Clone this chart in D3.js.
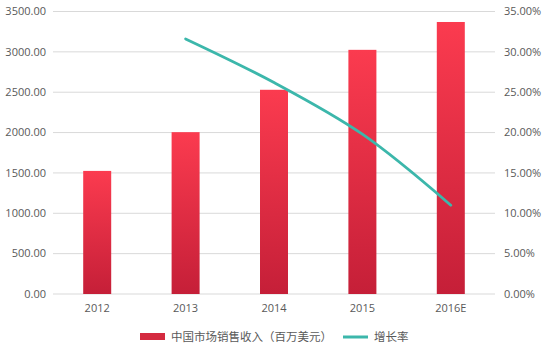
<!DOCTYPE html>
<html>
<head>
<meta charset="utf-8">
<script src="https://cdn.jsdelivr.net/npm/d3@7"></script>
<style>
  body { margin: 0; background: #fff; }
  text { font-family: "Open Sans", "Noto Sans CJK SC", sans-serif; fill: #595959; }
</style>
</head>
<body>
<svg width="548" height="355"></svg>
<script>
var years = ["2012", "2013", "2014", "2015", "2016E"];
var revenue = [1525, 2005, 2530, 3025, 3370];
var growth = [null, 0.316, 0.262, 0.198, 0.110];
var leftTicks = [0, 500, 1000, 1500, 2000, 2500, 3000, 3500];
var rightTicks = [0, 0.05, 0.10, 0.15, 0.20, 0.25, 0.30, 0.35];
var barName = "中国市场销售收入（百万美元）";
var lineName = "增长率";

var svg = d3.select("svg"),
    margin = {top: 11.5, right: 53, bottom: 61, left: 53},
    width = +svg.attr("width") - margin.left - margin.right,
    height = +svg.attr("height") - margin.top - margin.bottom,
    g = svg.append("g").attr("transform", "translate(" + margin.left + "," + margin.top + ")");

var defs = svg.append("defs");
var grad = defs.append("linearGradient")
    .attr("id", "barGrad").attr("x1", 0).attr("y1", 0).attr("x2", 0).attr("y2", 1);
grad.append("stop").attr("offset", "0%").attr("stop-color", "#fb3b4f");
grad.append("stop").attr("offset", "100%").attr("stop-color", "#c51f38");

var x = d3.scaleBand().domain(years).range([0, width]);
var y = d3.scaleLinear().domain([0, 3500]).range([height, 0]);
var y2 = d3.scaleLinear().domain([0, 0.35]).range([height, 0]);

// grid
g.selectAll(".grid")
    .data(leftTicks)
    .enter().append("line")
    .attr("x1", 0).attr("x2", width)
    .attr("y1", function(d) { return y(d); })
    .attr("y2", function(d) { return y(d); })
    .attr("stroke", "#d9d9d9").attr("stroke-width", 1);

var fmtL = d3.format(".2f");
var fmtR = d3.format(".2%");

g.selectAll(".ltick")
    .data(leftTicks)
    .enter().append("text")
    .attr("x", -7).attr("y", function(d) { return y(d); })
    .attr("dy", "0.35em").attr("text-anchor", "end")
    .attr("font-size", 11)
    .text(function(d) { return fmtL(d); });

g.selectAll(".rtick")
    .data(rightTicks)
    .enter().append("text")
    .attr("x", width + 9).attr("y", function(d) { return y2(d); })
    .attr("dy", "0.35em").attr("text-anchor", "start")
    .attr("font-size", 11)
    .text(function(d) { return fmtR(d); });

var bw = 28;
g.selectAll(".bar")
    .data(revenue)
    .enter().append("rect")
    .attr("x", function(d, i) { return x(years[i]) + x.bandwidth() / 2 - bw / 2; })
    .attr("y", function(d) { return y(d); })
    .attr("width", bw)
    .attr("height", function(d) { return height - y(d); })
    .attr("fill", "url(#barGrad)");

g.selectAll(".xlab")
    .data(years)
    .enter().append("text")
    .attr("x", function(d) { return x(d) + x.bandwidth() / 2; })
    .attr("y", height + 18)
    .attr("text-anchor", "middle")
    .attr("font-size", 11)
    .text(function(d) { return d; });

var pts = growth.map(function(v, i) { return {k: years[i], v: v}; })
    .filter(function(d) { return d.v != null; });

var line = d3.line()
    .x(function(d) { return x(d.k) + x.bandwidth() / 2; })
    .y(function(d) { return y2(d.v); })
    .curve(d3.curveCatmullRom.alpha(0.5));

g.append("path")
    .datum(pts)
    .attr("d", line)
    .attr("fill", "none")
    .attr("stroke", "#3cb7ab")
    .attr("stroke-width", 2.75)
    .attr("stroke-linecap", "round");

// legend
var lg = svg.append("g").attr("transform", "translate(140,337)");
lg.append("rect").attr("x", 0).attr("y", -4).attr("width", 25).attr("height", 7).attr("fill", "#d42a40");
lg.append("text").attr("x", 31).attr("y", 0).attr("dy", "0.35em").attr("font-size", 11.5).text(barName);
lg.append("line").attr("x1", 203).attr("x2", 228).attr("y1", 0).attr("y2", 0)
    .attr("stroke", "#3cb7ab").attr("stroke-width", 3);
lg.append("text").attr("x", 234).attr("y", 0).attr("dy", "0.35em").attr("font-size", 11.5).text(lineName);
</script>
</body>
</html>
